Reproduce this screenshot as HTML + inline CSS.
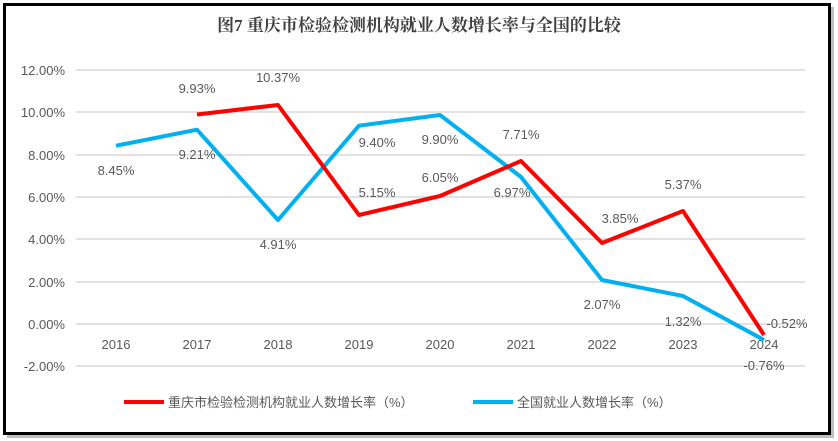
<!DOCTYPE html>
<html><head><meta charset="utf-8"><style>
body{margin:0;background:#fff;width:838px;height:441px;overflow:hidden}
svg{display:block}
text{font-family:"Liberation Sans","Noto Sans CJK SC",sans-serif;fill:#595959;font-size:13px}
</style></head><body>
<svg width="838" height="441" viewBox="0 0 838 441">
<rect x="7" y="7" width="827" height="431" fill="#bfbfbf"/>
<rect x="4.5" y="4.5" width="825" height="429" fill="#fff" stroke="#000" stroke-width="3"/>
<text x="419" y="31" text-anchor="middle" style="font-family:'Liberation Serif','Noto Serif CJK SC',serif;font-size:17px;font-weight:bold;fill:#404040">图7 重庆市检验检测机构就业人数增长率与全国的比较</text>
<g stroke="#d9d9d9" stroke-width="1.5">
<line x1="76" x2="805" y1="70" y2="70"/><line x1="76" x2="805" y1="112" y2="112"/>
<line x1="76" x2="805" y1="155" y2="155"/><line x1="76" x2="805" y1="197" y2="197"/>
<line x1="76" x2="805" y1="239" y2="239"/><line x1="76" x2="805" y1="282" y2="282"/>
<line x1="76" x2="805" y1="366" y2="366"/>
</g>
<line x1="76" x2="805" y1="324" y2="324" stroke="#d9d9d9" stroke-width="1.5"/>
<g text-anchor="end">
<text x="65" y="75">12.00%</text><text x="65" y="117">10.00%</text><text x="65" y="160">8.00%</text>
<text x="65" y="202">6.00%</text><text x="65" y="244">4.00%</text><text x="65" y="287">2.00%</text>
<text x="65" y="329">0.00%</text><text x="65" y="371">-2.00%</text>
</g>
<g text-anchor="middle">
<text x="116" y="349">2016</text><text x="197" y="349">2017</text><text x="278" y="349">2018</text>
<text x="359" y="349">2019</text><text x="440" y="349">2020</text><text x="521" y="349">2021</text>
<text x="602" y="349">2022</text><text x="683" y="349">2023</text><text x="764" y="349">2024</text>
</g>
<polyline fill="none" stroke="#00b0f0" stroke-width="4" stroke-linejoin="round" points="116,145.7 197,129.7 278,220 359,125.7 440,115 521,177 602,280 683,296 764,340"/>
<polyline fill="none" stroke="#ff0000" stroke-width="4" stroke-linejoin="round" points="197,114.5 278,105 359,215 440,196 521,161 602,243 683,211 764,335"/>
<g text-anchor="middle">
<text x="197" y="93">9.93%</text><text x="278" y="82">10.37%</text><text x="377" y="197">5.15%</text>
<text x="440" y="182">6.05%</text><text x="521" y="139">7.71%</text><text x="620" y="223">3.85%</text>
<text x="683" y="189">5.37%</text><text x="787" y="328">-0.52%</text>
<text x="116" y="175">8.45%</text><text x="197" y="159">9.21%</text><text x="278" y="249">4.91%</text>
<text x="377" y="147">9.40%</text><text x="440" y="144">9.90%</text><text x="512" y="197">6.97%</text>
<text x="602" y="309">2.07%</text><text x="683" y="326">1.32%</text><text x="764" y="370">-0.76%</text>
</g>
<line x1="124" x2="164" y1="402" y2="402" stroke="#ff0000" stroke-width="4"/>
<text x="168" y="407">重庆市检验检测机构就业人数增长率（%）</text>
<line x1="473" x2="513" y1="402" y2="402" stroke="#00b0f0" stroke-width="4"/>
<text x="517" y="407">全国就业人数增长率（%）</text>
</svg>
</body></html>
